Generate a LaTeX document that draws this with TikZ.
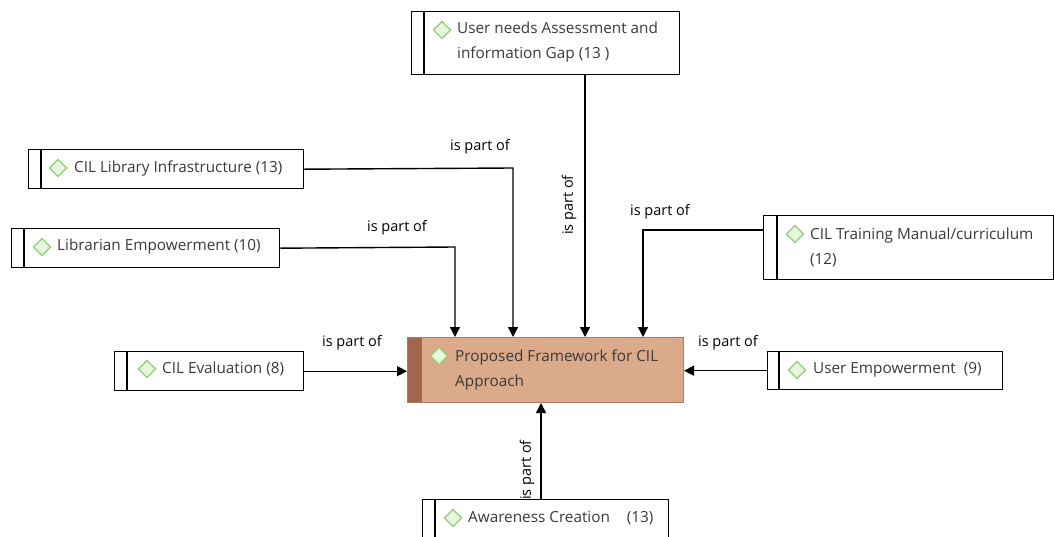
\documentclass[tikz,border=0pt]{standalone}
\usepackage{fontspec}
\setmainfont{Open Sans}
\usetikzlibrary{arrows.meta}
\definecolor{txt}{HTML}{3A3A3A}
\definecolor{tan}{HTML}{DBAA8B}
\definecolor{tanbar}{HTML}{A2664D}
\definecolor{tanbd}{HTML}{B07A60}
\definecolor{dfill}{HTML}{E6F7DD}
\definecolor{dline}{HTML}{8FCF7A}
\tikzset{
  box/.style={draw=black, line width=1.4pt, anchor=north west, inner sep=0pt},
  lbl/.style={font=\fontsize{15.3}{25}\selectfont, text=txt, anchor=west, inner sep=0pt, align=left},
  edgelbl/.style={font=\fontsize{14.5}{16}\selectfont, text=black, inner sep=0pt},
  dia/.style={draw=dline, fill=dfill, line width=1.3pt, rotate=45, minimum size=12pt, inner sep=0pt},
  con/.style={line width=1.4pt, -{Triangle[length=10pt,width=10pt]}},
  bar/.style={line width=1.4pt}
}
\begin{document}
\begin{tikzpicture}[x=1pt,y=-1pt]
\useasboundingbox (0,0) rectangle (1054,537);
\fill[white] (0,0) rectangle (1054,537);

% central
\node[box, draw=tanbd, fill=tan, line width=1pt, minimum width=276pt, minimum height=65pt] (pf) at (407,337) {};
\fill[tanbar] (408,337.5) rectangle (422,401.5);
\node[dia] (dpf) at (439,356) {};
\node[lbl] (tpf) at (455,370) {Proposed Framework for CIL\\Approach};

% user needs
\node[box, minimum width=268pt, minimum height=63pt] (un) at (411,11) {};
\draw[bar] (424,11) -- (424,74);
\node[dia] (dun) at (442,30) {};
\node[lbl] (tun) at (457,42.5) {User needs Assessment and\\information Gap (13 )};

% CIL library
\node[box, minimum width=275pt, minimum height=39pt] (lib) at (28,149) {};
\draw[bar] (41,149) -- (41,188);
\node[dia] (dlib) at (58,168) {};
\node[lbl] (tlib) at (74,168) {CIL Library Infrastructure (13)};

% Librarian
\node[box, minimum width=268pt, minimum height=39pt] (le) at (11,228) {};
\draw[bar] (24,228) -- (24,267);
\node[dia] (dle) at (42,247) {};
\node[lbl] (tle) at (57,247) {Librarian Empowerment (10)};

% CIL Training
\node[box, minimum width=290pt, minimum height=64pt] (tr) at (763,215) {};
\draw[bar] (777,215) -- (777,279);
\node[dia] (dtr) at (795,234) {};
\node[lbl] (ttr) at (810,247) {CIL Training Manual/curriculum\\(12)};

% User Empowerment
\node[box, minimum width=235pt, minimum height=38pt] (ue) at (767,351) {};
\draw[bar] (779,351) -- (779,389);
\node[dia] (due) at (797,370) {};
\node[lbl] (tue) at (813,370) {User Empowerment\ \ (9)};

% CIL Evaluation
\node[box, minimum width=189pt, minimum height=39pt] (ev) at (114,351) {};
\draw[bar] (127,351) -- (127,390);
\node[dia] (dev) at (147,369) {};
\node[lbl] (tev) at (162,369) {CIL Evaluation (8)};

% Awareness
\node[box, minimum width=246pt, minimum height=45pt] (aw) at (422,499) {};
\draw[bar] (435,499) -- (435,537);
\node[dia] (daw) at (453,518) {};
\node[lbl] (taw) at (468,518) {Awareness Creation\hspace{1.1em}(13)};

% connectors
\coordinate (c1) at (513,168);
\draw[con] (lib.east) -- (c1) -- (c1 |- pf.north);
\node[edgelbl] (l1) at (480,147) {is part of};

\coordinate (c2) at (455,247);
\draw[con] (le.east) -- (c2) -- (c2 |- pf.north);
\node[edgelbl] (l2) at (397,228) {is part of};

\coordinate (s3) at (585,74);
\draw[con] (s3) -- (s3 |- pf.north);
\node[edgelbl, rotate=90] (l3) at (569,205) {is part of};

\coordinate (s4) at (763,230);
\coordinate (c4) at (643,230);
\draw[con] (s4) -- (c4) -- (c4 |- pf.north);
\node[edgelbl] (l4) at (660,212) {is part of};

\draw[con] (ev.east) -- (ev.east -| pf.west);
\node[edgelbl] (l5) at (352,343) {is part of};

\draw[con] (ue.west) -- (ue.west -| pf.east);
\node[edgelbl] (l6) at (728,343) {is part of};

\coordinate (s7) at (541,499);
\draw[con] (s7) -- (s7 |- pf.south);
\node[edgelbl, rotate=90] (l7) at (527,470) {is part of};
\end{tikzpicture}
\end{document}
